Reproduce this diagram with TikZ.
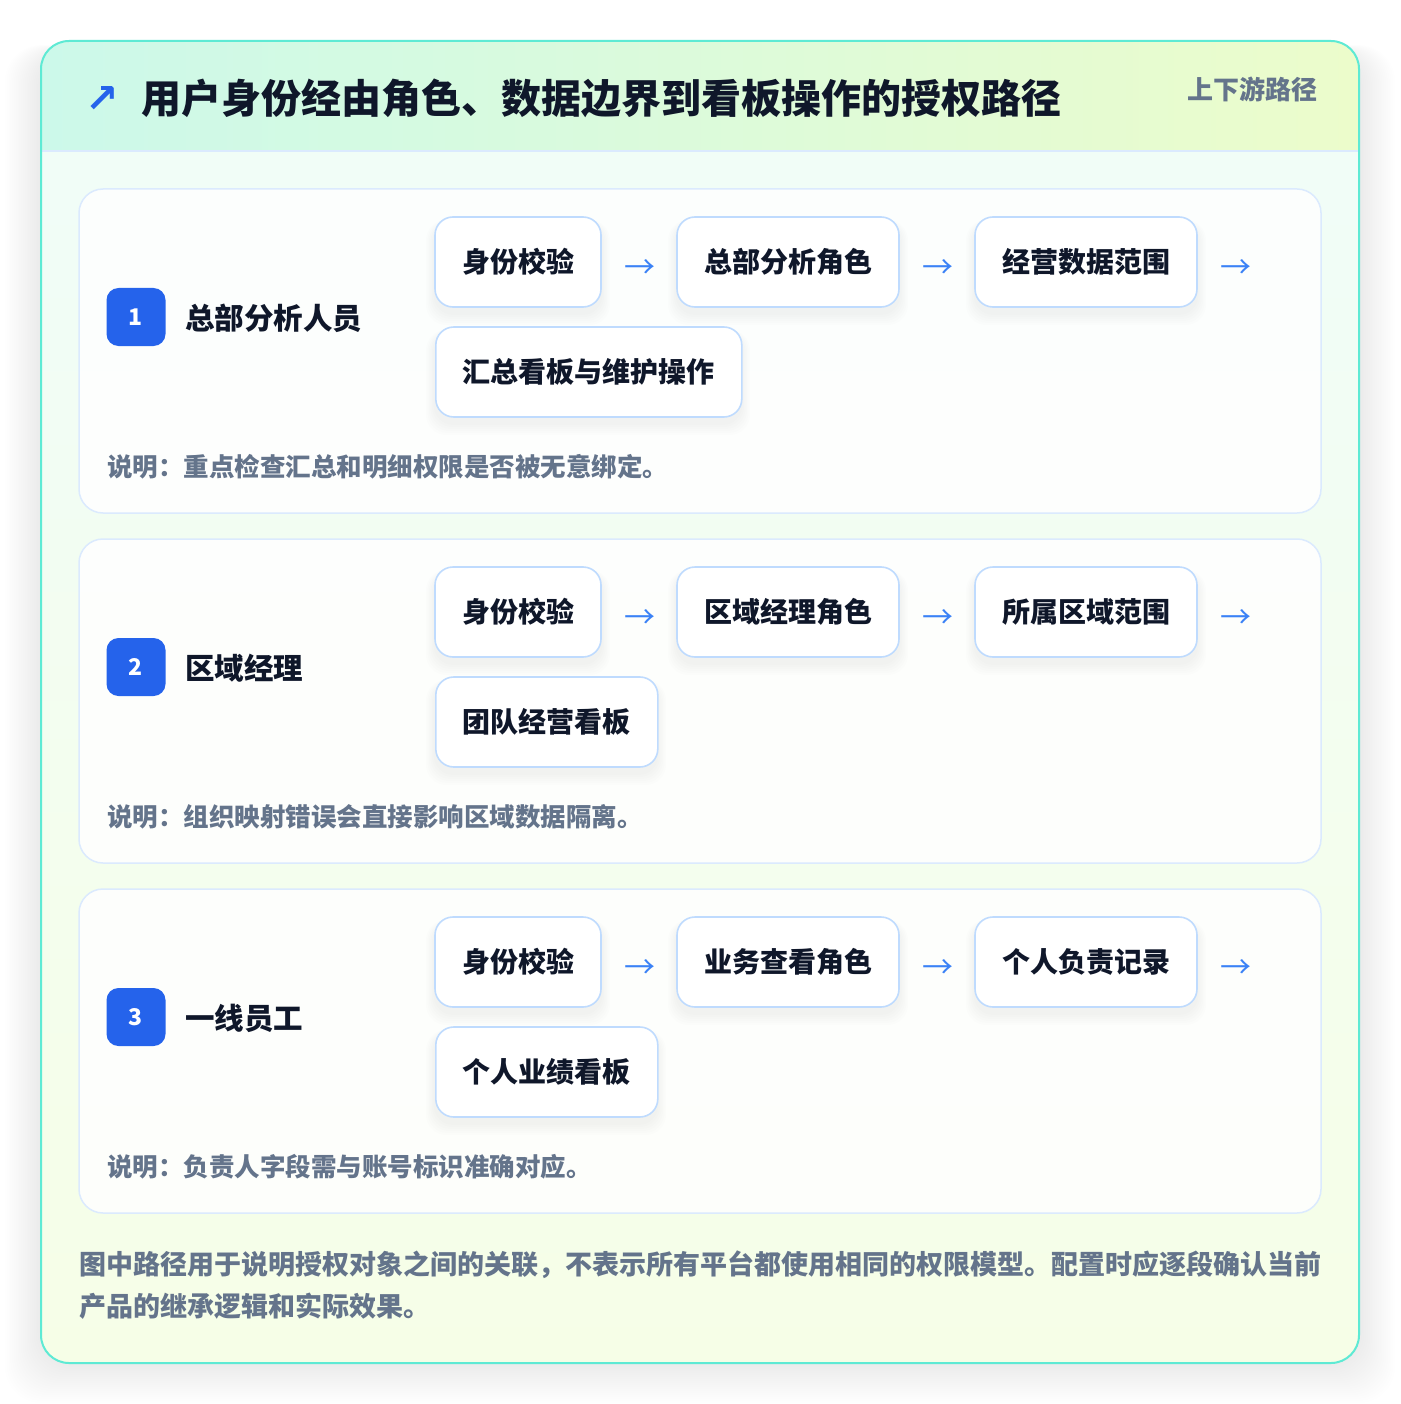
\documentclass[tikz,border=0pt]{standalone}
\usepackage{fontspec}
\setmainfont{Noto Sans CJK SC}
\newfontfamily\symfont{DejaVu Sans}
\definecolor{cardborder}{HTML}{5EEAD4}
\definecolor{headL}{HTML}{CCF9EA}
\definecolor{headR}{HTML}{ECFCCB}
\definecolor{bodyT}{HTML}{F0FDF9}
\definecolor{bodyB}{HTML}{F6FEE7}
\definecolor{divider}{HTML}{DBEAFE}
\definecolor{secborder}{HTML}{DBEAFE}
\definecolor{stepborder}{HTML}{BFDBFE}
\definecolor{darktext}{HTML}{0F172A}
\definecolor{graytext}{HTML}{64748B}
\definecolor{badgeblue}{HTML}{2563EB}
\definecolor{arrowblue}{HTML}{3B82F6}
\tikzset{
  titletext/.style={font={\fontsize{40}{44}\selectfont\bfseries}, text=darktext},
  tagtext/.style={font={\fontsize{26}{30}\selectfont\bfseries}, text=graytext},
  badge/.style={fill=badgeblue, rounded corners=12, minimum width=59, minimum height=58, text=white, font={\fontsize{23}{26}\selectfont\bfseries}},
  lbl/.style={font={\fontsize{29.5}{34}\selectfont\bfseries}, text=darktext},
  stepbox/.style={draw=stepborder, line width=1.6, fill=white, rounded corners=18, minimum height=90, text=darktext, font={\fontsize{28}{32}\selectfont\bfseries}},
  arr/.style={text=arrowblue, font={\fontsize{31}{34}\selectfont}},
  notetext/.style={font={\fontsize{25.5}{30}\selectfont\bfseries}, text=graytext},
  foottext/.style={font={\fontsize{27}{32}\selectfont\bfseries}, text=graytext},
}
% #1 idx, #2 yoff, #3 label, #4 step2, #5 step3, #6 step4, #7 step4 width, #8 note
\newcommand{\mysection}[8]{%
\begin{scope}[shift={(0,#2)}]
  \draw[draw=secborder, line width=1.5, fill=white, fill opacity=0.85, rounded corners=24] (79,189) rectangle (1321,513);
  \foreach \dx/\w in {518/166, 788/222, 1086/222} {
    \foreach \k in {1,...,6} {
      \fill[black, opacity=0.008, rounded corners=20] (\dx-\w/2-\k*1.5, 217+6-\k*0.5) rectangle (\dx+\w/2+\k*1.5, 307+6+\k*2);
    }
  }
  \foreach \k in {1,...,6} {
    \fill[black, opacity=0.008, rounded corners=20] (435-\k*1.5, 327+6-\k*0.5) rectangle (435+#7+\k*1.5, 417+6+\k*2);
  }
  \node[badge] (b#1) at (136,317) {#1};
  \node[lbl, anchor=west] (l#1) at (185,318) {#3};
  \node[stepbox, minimum width=166] (s#1a) at (518,262) {身份校验};
  \node[arr] (a#1a) at (640,269) {→};
  \node[stepbox, minimum width=222] (s#1b) at (788,262) {#4};
  \node[arr] (a#1b) at (938,269) {→};
  \node[stepbox, minimum width=222] (s#1c) at (1086,262) {#5};
  \node[arr] (a#1c) at (1236,269) {→};
  \node[stepbox, minimum width=#7, anchor=west] (s#1d) at (435,372) {#6};
  \node[notetext, anchor=west] (n#1) at (107,467) {说明：#8};
\end{scope}}
\begin{document}
\begin{tikzpicture}[x=1pt, y=-1pt, every node/.style={inner sep=0pt}]
\useasboundingbox (0,0) rectangle (1400,1404);
\fill[white] (0,0) rectangle (1400,1404);
% outer shadow
\foreach \i in {1,...,20} {
  \fill[black, opacity=0.005, rounded corners=36] (41-\i*1.8, 41+10-\i*0.3) rectangle (1359+\i*1.8, 1363+\i*2);
}
% outer card
\begin{scope}
  \clip[rounded corners=28] (41,41) rectangle (1359,1363);
  \shade[top color=bodyT, bottom color=bodyB] (41,41) rectangle (1359,1363);
  \shade[left color=headL, right color=headR] (41,41) rectangle (1359,151);
\end{scope}
\draw[divider, line width=1.5] (42,151) -- (1358,151);
\draw[cardborder, line width=2, rounded corners=28] (41,41) rectangle (1359,1363);
% header
\node[text=badgeblue, font={\symfont\bfseries\fontsize{40}{44}\selectfont}] (ta) at (102,100) {↗};
\node[titletext, anchor=west] (title) at (141,98) {用户身份经由角色、数据边界到看板操作的授权路径};
\node[tagtext, anchor=east] (tag) at (1318,89) {上下游路径};
% sections
\mysection{1}{0}{总部分析人员}{总部分析角色}{经营数据范围}{汇总看板与维护操作}{306}{重点检查汇总和明细权限是否被无意绑定。}
\mysection{2}{350}{区域经理}{区域经理角色}{所属区域范围}{团队经营看板}{222}{组织映射错误会直接影响区域数据隔离。}
\mysection{3}{700}{一线员工}{业务查看角色}{个人负责记录}{个人业绩看板}{222}{负责人字段需与账号标识准确对应。}
% footer
\node[foottext, anchor=west] (f1) at (79,1265) {图中路径用于说明授权对象之间的关联，不表示所有平台都使用相同的权限模型。配置时应逐段确认当前};
\node[foottext, anchor=west] (f2) at (79,1306) {产品的继承逻辑和实际效果。};
\end{tikzpicture}
\end{document}
